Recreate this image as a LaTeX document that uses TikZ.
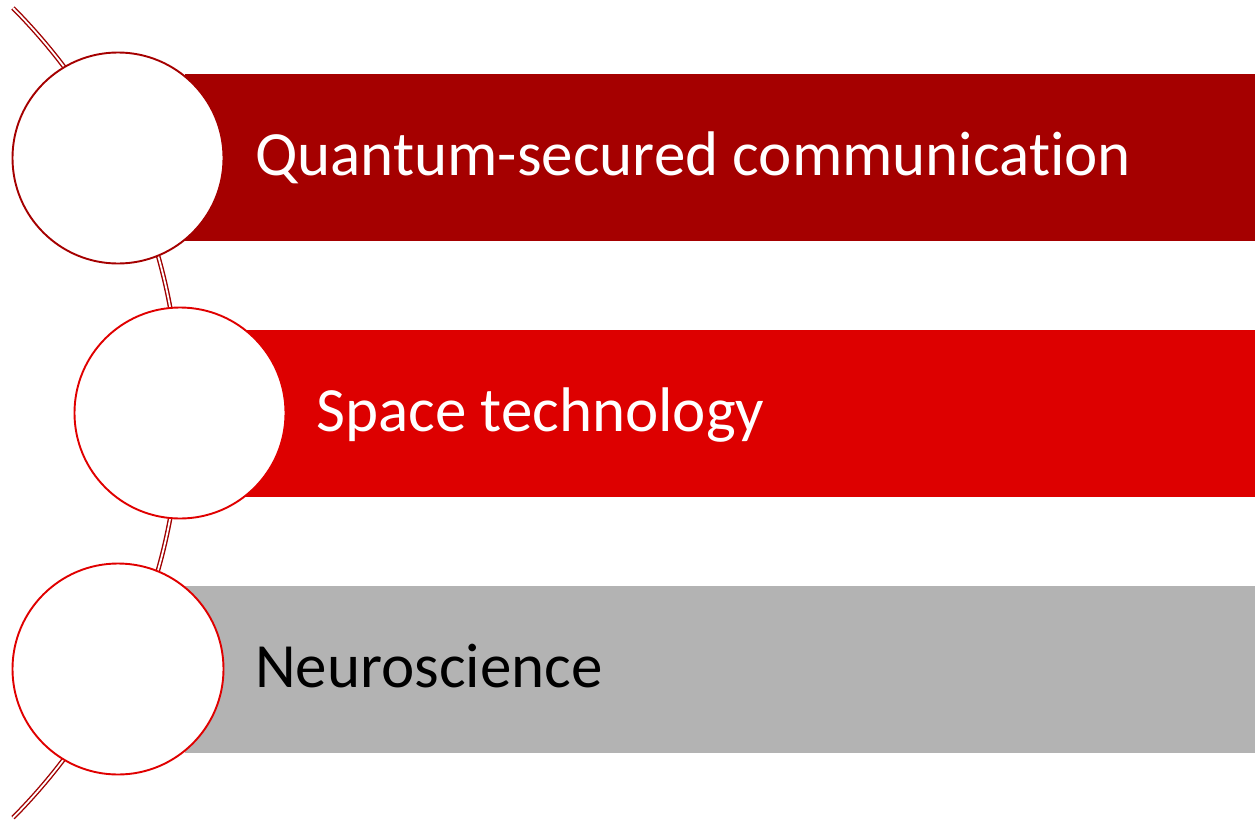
\documentclass[tikz,border=0pt]{standalone}
\usepackage{fontspec}
\setmainfont{Carlito}[Ligatures={NoCommon,NoDiscretionary}]
\definecolor{darkred}{HTML}{A50000}
\definecolor{brightred}{HTML}{DD0000}
\definecolor{circred}{HTML}{E00000}
\definecolor{bandgray}{HTML}{B3B3B3}
\definecolor{arcred}{HTML}{A00000}
\begin{document}
\begin{tikzpicture}[x=1pt,y=1pt,
  band/.style={inner sep=0pt, outer sep=0pt, minimum height=167pt, anchor=north west},
  disc/.style={circle, fill=white, line width=1.9pt, minimum size=211pt, inner sep=0pt},
  label/.style={font=\fontsize{63}{63}\selectfont, anchor=base west, inner sep=0pt},
  arcline/.style={draw=arcred, line width=1.4pt, double=white, double distance=1.8pt}
]
\useasboundingbox (0,0) rectangle (1255,-822);
% spine arc
\coordinate (arcstart) at (13,-8);
\draw[arcline] (arcstart) arc[start angle=44.8, end angle=-44.8, radius=574.6pt] coordinate (arcend);
% bands
\node[band, fill=darkred, minimum width=1070pt] (b1) at (185,-74) {};
\node[band, fill=brightred, minimum width=1010pt] (b2) at (245,-330) {};
\node[band, fill=bandgray, minimum width=1070pt] (b3) at (185,-586) {};
% circles
\node[disc, draw=darkred] (c1) at (118,-158) {};
\node[disc, draw=circred] (c2) at (180,-413) {};
\node[disc, draw=circred] (c3) at (118,-669) {};
% labels
\node[label, text=white] (t1) at (255,-175) {Quantum-secured communication};
\node[label, text=white] (t2) at (316,-431) {Space technology};
\node[label, text=black] (t3) at (255,-687) {Neuroscience};
\end{tikzpicture}
\end{document}
